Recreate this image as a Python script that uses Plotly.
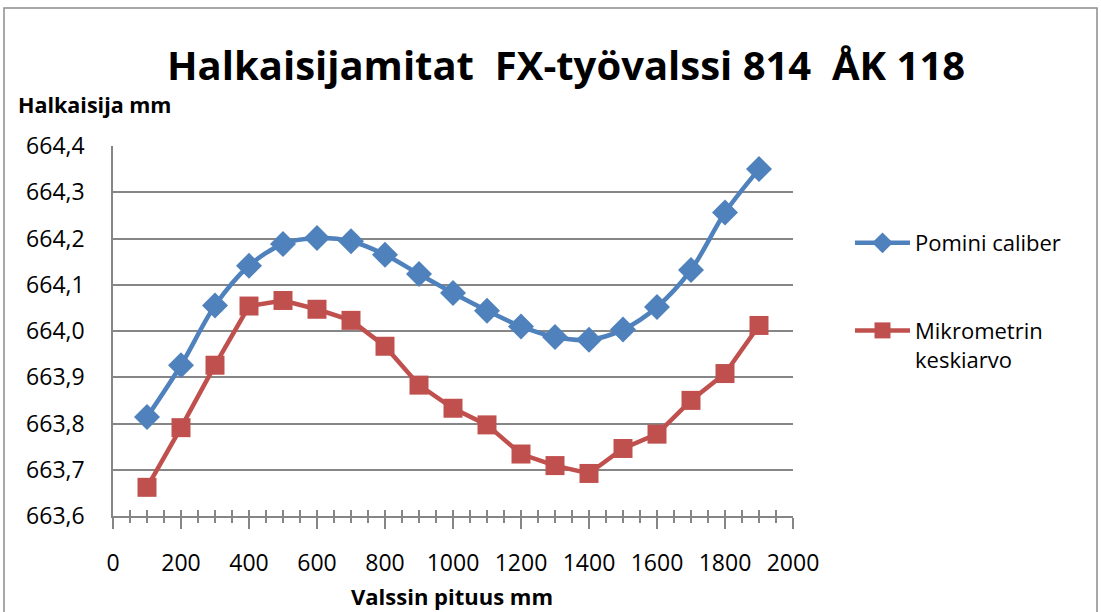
import plotly.graph_objects as go

# Measurement positions along the roll (mm)
positions = [100, 200, 300, 400, 500, 600, 700, 800, 900, 1000,
             1100, 1200, 1300, 1400, 1500, 1600, 1700, 1800, 1900]

# Diameter readings (mm)
pomini_caliber = [663.814, 663.926, 664.055, 664.141, 664.188, 664.201, 664.194,
                  664.165, 664.123, 664.082, 664.044, 664.010, 663.987, 663.981,
                  664.003, 664.052, 664.132, 664.256, 664.350]
mikrometrin_keskiarvo = [663.662, 663.791, 663.926, 664.054, 664.066, 664.047, 664.023,
                         663.967, 663.883, 663.833, 663.797, 663.734, 663.709, 663.692,
                         663.746, 663.777, 663.850, 663.908, 664.012]

title_text = "Halkaisijamitat  FX-työvalssi 814  ÅK 118"
y_title = "Halkaisija mm"
x_title = "Valssin pituus mm"
series_names = ["Pomini caliber", "Mikrometrin<br>keskiarvo"]

BLUE = "#4F81BD"
RED = "#C0504D"
GRID = "#868686"
FONT = "Open Sans"

W, H = 1101, 612
L, R, T, B = 113, 308, 146, 96
pw, ph = W - L - R, H - T - B


def px(x):
    return (x - L) / pw


def py(y):
    return (H - B - y) / ph


fig = go.Figure()
fig.add_trace(go.Scatter(
    x=positions, y=pomini_caliber, name=series_names[0], mode="lines+markers",
    line=dict(color=BLUE, width=4.5, shape="spline", smoothing=0.9),
    marker=dict(symbol="diamond", size=20, color=BLUE),
    legendgroup="a",
))
fig.add_trace(go.Scatter(
    x=positions, y=mikrometrin_keskiarvo, name=series_names[1], mode="lines+markers",
    line=dict(color=RED, width=4.5),
    marker=dict(symbol="square", size=19, color=RED),
    legendgroup="b", xaxis="x2",
))

fig.update_layout(
    width=W, height=H,
    margin=dict(l=L, r=R, t=T, b=B),
    paper_bgcolor="white", plot_bgcolor="white",
    separators=", ",
    font=dict(family=FONT, color="black"),
    showlegend=True,
    legend=dict(
        x=px(850), y=py(222), xanchor="left", yanchor="top",
        font=dict(size=22, family=FONT), tracegroupgap=56, valign="top",
        itemwidth=55, bgcolor="rgba(0,0,0,0)", traceorder="grouped",
    ),
    xaxis=dict(
        range=[0, 2000], dtick=200, tick0=0,
        showgrid=False, zeroline=False,
        showline=True, linecolor=GRID, linewidth=1.5,
        ticks="outside", ticklen=11, tickcolor=GRID, tickwidth=1.5,
        minor=dict(dtick=50, ticks="outside", ticklen=5, tickcolor=GRID, tickwidth=1.5),
        tickfont=dict(size=23, family=FONT), ticklabelstandoff=15,
    ),
    xaxis2=dict(
        range=[0, 2000], overlaying="x", matches="x", dtick=50, tick0=0,
        showgrid=False, zeroline=False, showticklabels=False,
        ticks="inside", ticklen=6, tickcolor=GRID, tickwidth=1.5,
    ),
    yaxis=dict(
        range=[663.6, 664.4], dtick=0.1, tick0=663.6, tickformat=".1f",
        showgrid=True, gridcolor=GRID, gridwidth=1.5,
        zeroline=False, showline=True, linecolor=GRID, linewidth=1.5,
        ticks="", tickfont=dict(size=23, family=FONT), ticklabelstandoff=22,
    ),
    shapes=[dict(
        type="rect", xref="paper", yref="paper",
        x0=px(4), x1=px(1097), y0=py(620), y1=py(8),
        line=dict(color="#8C8C8C", width=1.5), fillcolor="rgba(0,0,0,0)", layer="below",
    )],
    annotations=[
        dict(text=f"<b>{title_text}</b>", xref="paper", yref="paper",
             x=px(566), y=py(64), xanchor="center", yanchor="middle",
             showarrow=False, font=dict(size=40, family=FONT)),
        dict(text=f"<b>{y_title}</b>", xref="paper", yref="paper",
             x=px(16), y=py(104), xanchor="left", yanchor="middle",
             showarrow=False, font=dict(size=21.5, family=FONT)),
        dict(text=f"<b>{x_title}</b>", xref="paper", yref="paper",
             x=px(452), y=py(596), xanchor="center", yanchor="middle",
             showarrow=False, font=dict(size=22, family=FONT)),
    ],
)

fig.write_html("out.html")
